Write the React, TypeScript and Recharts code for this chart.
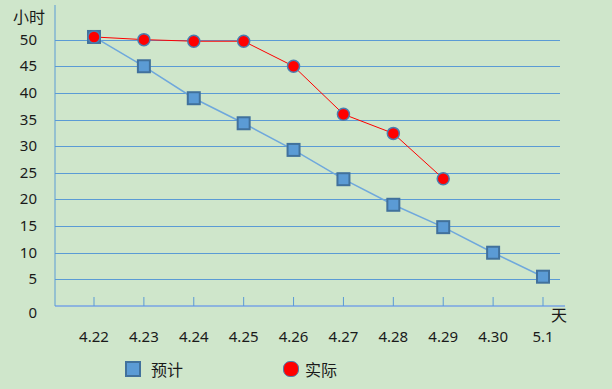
import React from "react"
import { LineChart, Line, XAxis, YAxis, CartesianGrid } from "recharts"

// days on the x axis and hours left for each series
const days = ["4.22", "4.23", "4.24", "4.25", "4.26", "4.27", "4.28", "4.29", "4.30", "5.1"]
const plannedHours = [50.5, 45, 39, 34.3, 29.3, 23.8, 19, 14.8, 10, 5.5]
const actualHours: (number | null)[] = [50.5, 50, 49.7, 49.7, 45, 36, 32.4, 23.9, null, null]
const yTicks = [0, 5, 10, 15, 20, 25, 30, 35, 40, 45, 50]
const seriesNames = ["预计", "实际"]

const data = days.map((d, i) => ({ day: d, planned: plannedHours[i], actual: actualHours[i] }))

const FONT = "'Noto Sans', 'Noto Sans CJK SC', sans-serif"
const BG = "#CFE6CB"

const SquareDot = (props: any) => {
  const { cx, cy, index } = props
  if (cx == null || cy == null) return <g key={`s-${index}`} />
  return (
    <rect key={`s-${index}`} x={cx - 6} y={cy - 6} width={12} height={12} fill="#5B9BD5" stroke="#41719C" strokeWidth={2} />
  )
}

const CircleDot = (props: any) => {
  const { cx, cy, index } = props
  if (cx == null || cy == null) return <g key={`c-${index}`} />
  return <circle key={`c-${index}`} cx={cx} cy={cy} r={6} fill="#FF0000" stroke="#4A7EB0" strokeWidth={1.5} />
}

const YTick = (props: any) => {
  const { x, y, payload } = props
  const dy = payload.value === 0 ? 12 : 5
  return (
    <text x={x} y={y + dy} textAnchor="end" fontSize={15} fill="#1a1a1a" fontFamily={FONT}>
      {payload.value}
    </text>
  )
}

// crisp grid lines, skipping the top edge of the plot
const GridLine = (props: any) => {
  const { x1, x2, y1, index } = props
  if (y1 < 15) return <g key={`g-${index}`} />
  const y = Math.round(y1) + 0.5
  return <line key={`g-${index}`} x1={x1} x2={x2 - 5} y1={y} y2={y} stroke="#5B9BD5" strokeWidth={1} />
}

export default function App() {
  return (
    <div style={{ width: 612, height: 389, background: BG, position: "relative" }}>
      <style>{`body{margin:0}`}</style>
      <div style={{ position: "absolute", left: 13, top: 4, fontFamily: FONT, fontSize: 16, color: "#1a1a1a" }}>小时</div>
      <div style={{ position: "absolute", left: 551, top: 302, fontFamily: FONT, fontSize: 16, color: "#1a1a1a" }}>天</div>
      <LineChart width={612} height={389} data={data} margin={{ top: 5, right: 47, bottom: 33, left: 0 }}>
        <CartesianGrid horizontal={GridLine} vertical={false} stroke="#5B9BD5" />
        <XAxis
          dataKey="day"
          padding={{ left: 39, right: 22 }}
          axisLine={{ stroke: "#8DB4DE", strokeWidth: 2 }}
          tickLine={{ stroke: "#5B9BD5" }}
          tickSize={-9}
          tickMargin={34}
          height={50}
          tick={{ fontSize: 15, fill: "#1a1a1a", fontFamily: FONT }}
        />
        <YAxis
          domain={[0, 56.5]}
          ticks={yTicks}
          width={55}
          axisLine={{ stroke: "#5B9BD5" }}
          tickLine={false}
          tickMargin={12}
          tick={<YTick />}
          interval={0}
        />
        <Line
          dataKey="planned"
          name={seriesNames[0]}
          stroke="#6FA8DC"
          strokeWidth={1.5}
          dot={SquareDot}
          activeDot={false}
          isAnimationActive={false}
        />
        <Line
          dataKey="actual"
          name={seriesNames[1]}
          stroke="#FF0000"
          strokeWidth={1}
          dot={CircleDot}
          activeDot={false}
          isAnimationActive={false}
        />
      </LineChart>
      <div
        style={{
          position: "absolute",
          top: 357,
          left: 125,
          display: "flex",
          alignItems: "center",
          fontFamily: FONT,
          fontSize: 16,
          color: "#1a1a1a",
        }}
      >
        <span style={{ width: 12, height: 12, background: "#5B9BD5", border: "2px solid #41719C", display: "inline-block" }} />
        <span style={{ marginLeft: 10 }}>{seriesNames[0]}</span>
        <span
          style={{
            marginLeft: 100,
            width: 14,
            height: 14,
            borderRadius: 7,
            background: "#FF0000",
            border: "1.5px solid #4A7EB0",
            display: "inline-block",
          }}
        />
        <span style={{ marginLeft: 6 }}>{seriesNames[1]}</span>
      </div>
    </div>
  )
}
